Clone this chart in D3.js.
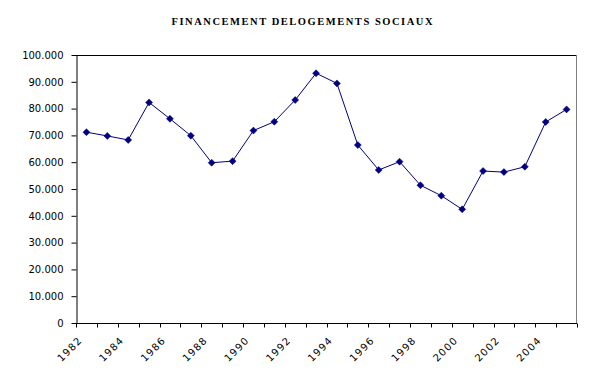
<!DOCTYPE html>
<html>
<head>
<meta charset="utf-8">
<script src="https://cdn.jsdelivr.net/npm/d3@7"></script>
<style>
  html, body { margin: 0; padding: 0; background: #fff; }
  svg { display: block; }
</style>
</head>
<body>
<svg id="chart" width="593" height="371"></svg>
<script>
const title = "FINANCEMENT DELOGEMENTS SOCIAUX";
const years = [1982,1983,1984,1985,1986,1987,1988,1989,1990,1991,1992,1993,
               1994,1995,1996,1997,1998,1999,2000,2001,2002,2003,2004,2005];
const values = [71200,69800,68300,82300,76200,69900,59800,60400,71800,75100,83200,93200,
                89400,66400,57100,60200,51400,47500,42400,56700,56300,58300,75000,79700];
const yTicks = [0,10000,20000,30000,40000,50000,60000,70000,80000,90000,100000];
const xLabelYears = [1982,1984,1986,1988,1990,1992,1994,1996,1998,2000,2002,2004];

const svg = d3.select("#chart");
const m = {left: 76, right: 577, top: 55, bottom: 323};

const x = d3.scaleBand().domain(years).range([m.left, m.right]).padding(0);
const y = d3.scaleLinear().domain([0, 100000]).range([m.bottom, m.top]);

const fmt = v => v === 0 ? "0" : d3.format(",.0f")(v).replace(/,/g, ".");

// title
svg.append("text")
  .attr("x", 302).attr("y", 25)
  .attr("text-anchor", "middle")
  .attr("font-family", "Liberation Serif, Times New Roman, serif")
  .attr("font-weight", "bold")
  .attr("font-size", 10.5)
  .attr("textLength", 261)
  .attr("lengthAdjust", "spacing")
  .text(title);

// plot frame: top black, right gray
svg.append("line").attr("x1", m.left).attr("x2", m.right).attr("y1", m.top + 0.5).attr("y2", m.top + 0.5)
  .attr("stroke", "#000").attr("stroke-width", 1);
svg.append("line").attr("x1", m.right - 0.5).attr("x2", m.right - 0.5).attr("y1", m.top).attr("y2", m.bottom)
  .attr("stroke", "#808080").attr("stroke-width", 1);

// y axis
const yAxis = svg.append("g")
  .attr("transform", `translate(${m.left + 0.5},0)`)
  .call(d3.axisLeft(y).tickValues(yTicks).tickFormat(fmt).tickSize(5).tickSizeOuter(0).tickPadding(8));
yAxis.select(".domain").attr("stroke", "#000");
yAxis.selectAll("text").attr("font-family", "DejaVu Sans, sans-serif").attr("font-size", 10).attr("fill", "#000");

// x axis
const tickPos = years.map(d => x(d)).concat([m.right]);
const xAxis = svg.append("g").attr("transform", `translate(0,${m.bottom + 0.5})`);
xAxis.append("line").attr("x1", m.left).attr("x2", m.right).attr("stroke", "#000");
xAxis.selectAll("line.tk").data(tickPos).join("line").attr("class", "tk")
  .attr("x1", d => Math.round(d) + 0.5).attr("x2", d => Math.round(d) + 0.5)
  .attr("y1", 0).attr("y2", 4).attr("stroke", "#000");
xAxis.selectAll("text").data(xLabelYears).join("text")
  .attr("transform", d => `translate(${x(d) + x.bandwidth()/2 - 6},${15}) rotate(-45)`)
  .attr("text-anchor", "end")
  .attr("dy", "0.35em")
  .attr("font-family", "DejaVu Sans, sans-serif")
  .attr("font-size", 10)
  .attr("letter-spacing", 1.2)
  .text(d => d);

// line
const cx = d => x(d) + x.bandwidth()/2;
const data = years.map((yr, i) => ({yr, v: values[i]}));
svg.append("path").datum(data)
  .attr("fill", "none").attr("stroke", "#000080").attr("stroke-width", 1)
  .attr("d", d3.line().x(d => cx(d.yr)).y(d => y(d.v)));

// markers (diamonds)
svg.selectAll("path.mk").data(data).join("path").attr("class", "mk")
  .attr("transform", d => `translate(${cx(d.yr)},${y(d.v)})`)
  .attr("d", "M0,-3.5L3.5,0L0,3.5L-3.5,0Z")
  .attr("fill", "#000080").attr("stroke", "#000080").attr("stroke-width", 0.5);
</script>
</body>
</html>
